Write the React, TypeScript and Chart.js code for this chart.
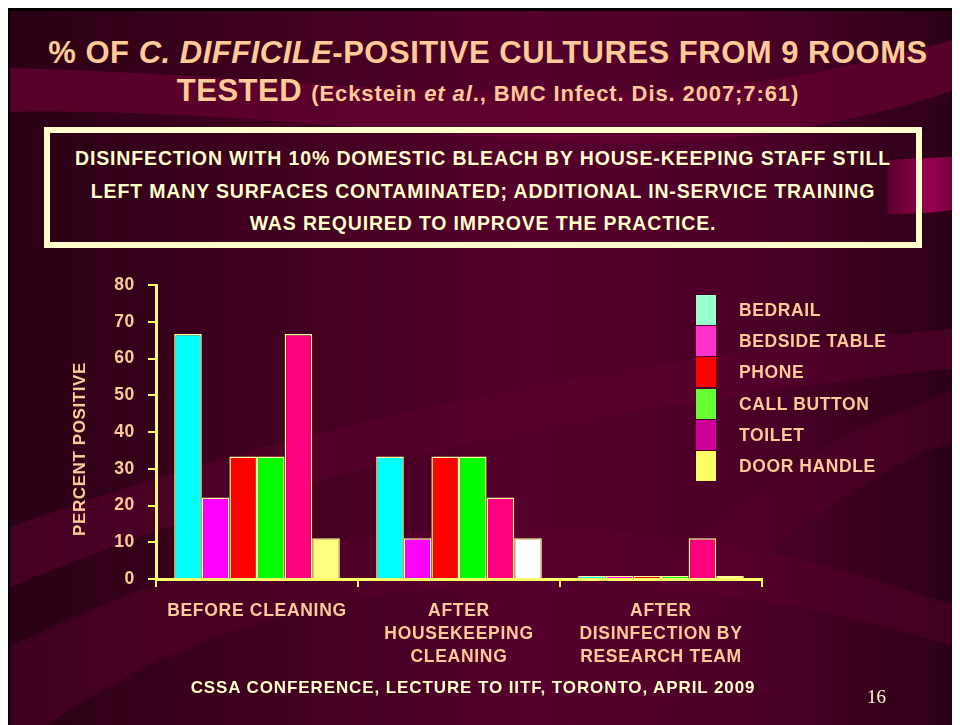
import React, { useEffect, useRef } from "react";
import { Chart, registerables } from "chart.js";

Chart.register(...registerables);

// ---------- data ----------
const categories: string[][] = [
  ["BEFORE CLEANING"],
  ["AFTER", "HOUSEKEEPING", "CLEANING"],
  ["AFTER", "DISINFECTION BY", "RESEARCH TEAM"],
];
const seriesNames = ["BEDRAIL", "BEDSIDE TABLE", "PHONE", "CALL BUTTON", "TOILET", "DOOR HANDLE"];
const bedrail = [66.7, 33.3, 0];
const bedsideTable = [22.2, 11.1, 0];
const phone = [33.3, 33.3, 0];
const callButton = [33.3, 33.3, 0];
const toilet = [66.7, 22.2, 11.1];
const doorHandle = [11.1, 11.1, 0];
const yMin = 0;
const yMax = 80;
const yStep = 10;

const seriesValues = [bedrail, bedsideTable, phone, callButton, toilet, doorHandle];
const barColors: (string | string[])[] = [
  "#00FFFF",
  "#FF00FF",
  "#FF0000",
  "#00FF00",
  "#FF0080",
  ["#FFFF80", "#FFFFFF", "#FFFF80"],
];
const legendColors = ["#99FFCC", "#FF33CC", "#FF0000", "#66FF33", "#CC0099", "#FFFF66"];

const FONT = "'Liberation Sans', Arial, sans-serif";
const PEACH = "#FFCC99";
const CREAM = "#FFFFCC";
const AXIS = "#FFFF66";

const spacingPlugin = {
  id: "letterSpacing",
  beforeDraw(chart: any) {
    (chart.ctx as any).letterSpacing = "0.7px";
  },
};

function ChartCanvas() {
  const ref = useRef<HTMLCanvasElement | null>(null);
  useEffect(() => {
    if (!ref.current) return;
    const chart = new Chart(ref.current, {
      type: "bar",
      data: {
        labels: categories as any,
        datasets: seriesNames.map((name, i) => ({
          label: name,
          data: seriesValues[i],
          backgroundColor: barColors[i] as any,
          borderColor: "#FFFF99",
          borderWidth: 1.5,
          minBarLength: 3,
          categoryPercentage: 0.82,
          barPercentage: 1,
        })),
      },
      options: {
        animation: false,
        responsive: false,
        maintainAspectRatio: false,
        layout: { padding: { left: 50, top: 277, right: 198, bottom: 46 } },
        plugins: {
          legend: { display: false },
          tooltip: { enabled: false },
          title: { display: false },
        },
        scales: {
          x: {
            grid: {
              display: true,
              drawOnChartArea: false,
              drawTicks: true,
              tickLength: 8,
              color: AXIS,
              lineWidth: 2,
              offset: true,
            },
            border: { display: true, color: AXIS, width: 3 },
            ticks: {
              color: PEACH,
              font: { family: FONT, size: 17.5, weight: "bold", lineHeight: 1.3 },
              padding: 13,
              maxRotation: 0,
              autoSkip: false,
            },
            afterFit: (s: any) => {
              s.height = 100;
            },
          },
          y: {
            min: yMin,
            max: yMax,
            grid: {
              display: true,
              drawOnChartArea: false,
              drawTicks: true,
              tickLength: 8,
              color: AXIS,
              lineWidth: 2,
            },
            border: { display: true, color: AXIS, width: 3 },
            ticks: {
              stepSize: yStep,
              color: PEACH,
              font: { family: FONT, size: 17.5, weight: "bold" },
              padding: 13,
            },
            afterFit: (s: any) => {
              s.width = 98;
            },
          },
        },
      },
      plugins: [spacingPlugin],
    });
    return () => chart.destroy();
  }, []);
  return (
    <canvas
      ref={ref}
      width={952}
      height={717}
      style={{ position: "absolute", left: 0, top: 0, width: 952, height: 717 }}
    />
  );
}

function Background() {
  return (
    <svg width={952} height={717} style={{ position: "absolute", left: 0, top: 0 }}>
      <defs>
        <linearGradient id="bg" x1="0" y1="0" x2="1" y2="0">
          <stop offset="0" stopColor="#2a0014" />
          <stop offset="0.3" stopColor="#41001f" />
          <stop offset="0.55" stopColor="#55002d" />
          <stop offset="0.78" stopColor="#4c0028" />
          <stop offset="1" stopColor="#2b0015" />
        </linearGradient>
        <linearGradient id="pink" x1="0" y1="0" x2="1" y2="0">
          <stop offset="0" stopColor="#5a002d" />
          <stop offset="0.6" stopColor="#9a0050" />
          <stop offset="1" stopColor="#6a0035" />
        </linearGradient>
      </defs>
      <rect x={0} y={0} width={952} height={717} fill="url(#bg)" />
      <path
        d="M0,60 C200,64 420,90 600,86 C760,82 880,50 952,30 L952,80 C860,112 720,142 560,134 C380,124 180,100 0,104 Z"
        fill="#62002f"
        opacity={0.8}
      />
      <path d="M880,152 C910,150 935,150 952,148 L952,200 C935,204 910,206 880,206 Z" fill="url(#pink)" />
      <path
        d="M0,520 C220,440 520,360 952,320 L952,360 C560,400 260,470 0,580 Z"
        fill="#5e0030"
        opacity={0.5}
      />
      <path
        d="M0,640 C160,560 300,520 520,520 C700,520 840,560 952,600 L952,640 C820,600 690,575 540,575 C340,575 180,620 40,717 L0,717 Z"
        fill="#5e0030"
        opacity={0.4}
      />
      <path
        d="M560,717 C620,600 720,470 900,400 L952,380 L952,430 C780,500 690,600 640,717 Z"
        fill="#5a002e"
        opacity={0.4}
      />
    </svg>
  );
}

export default function App() {
  useEffect(() => {
    document.body.style.overflow = "hidden";
  }, []);
  return (
    <div style={{ position: "relative", width: 952, height: 717, overflow: "hidden", fontFamily: FONT }}>
      <Background />
      <div style={{ position: "absolute", left: 0, top: 0, width: 952, height: 3, background: "#000" }} />
      <div style={{ position: "absolute", left: 0, top: 0, width: 2, height: 717, background: "#000" }} />

      {/* Title */}
      <div
        style={{
          position: "absolute",
          left: 0,
          top: 26,
          width: 960,
          textAlign: "center",
          color: PEACH,
          fontWeight: "bold",
          fontSize: 31,
          letterSpacing: "0.5px",
          lineHeight: "38px",
          whiteSpace: "nowrap",
        }}
      >
        <div>
          % OF <i>C. DIFFICILE</i>-POSITIVE CULTURES FROM 9 ROOMS
        </div>
        <div>
          TESTED{" "}
          <span style={{ fontSize: 22, letterSpacing: "0.9px" }}>
            (Eckstein <i>et al</i>., BMC Infect. Dis. 2007;7:61)
          </span>
        </div>
      </div>

      {/* Box */}
      <div
        style={{
          position: "absolute",
          left: 36,
          top: 119,
          width: 878,
          height: 121,
          boxSizing: "border-box",
          border: `6px solid ${CREAM}`,
          paddingTop: 9,
          textAlign: "center",
          color: CREAM,
          fontWeight: "bold",
          fontSize: 19.5,
          letterSpacing: "0.85px",
          lineHeight: "32.5px",
          whiteSpace: "nowrap",
        }}
      >
        <div>DISINFECTION WITH 10% DOMESTIC BLEACH BY HOUSE-KEEPING STAFF STILL</div>
        <div>LEFT MANY SURFACES CONTAMINATED; ADDITIONAL IN-SERVICE TRAINING</div>
        <div>WAS REQUIRED TO IMPROVE THE PRACTICE.</div>
      </div>

      <ChartCanvas />

      {/* Y axis title */}
      <div
        style={{
          position: "absolute",
          left: 71.5,
          top: 441,
          transform: "translate(-50%, -50%) rotate(-90deg)",
          color: PEACH,
          fontWeight: "bold",
          fontSize: 17,
          letterSpacing: "0.6px",
          whiteSpace: "nowrap",
          lineHeight: "20px",
        }}
      >
        PERCENT POSITIVE
      </div>

      {/* Legend */}
      <div style={{ position: "absolute", left: 688, top: 287 }}>
        {seriesNames.map((name, i) => (
          <div key={name} style={{ position: "relative", height: 31.2, width: 220 }}>
            <div
              style={{
                position: "absolute",
                left: 0,
                top: 0,
                width: 20,
                height: 30,
                background: legendColors[i],
              }}
            />
            <div
              style={{
                position: "absolute",
                left: 43,
                top: 0,
                height: 30,
                lineHeight: "30px",
                color: PEACH,
                fontWeight: "bold",
                fontSize: 17.5,
                letterSpacing: "0.6px",
                whiteSpace: "nowrap",
              }}
            >
              {name}
            </div>
          </div>
        ))}
      </div>

      {/* Footer */}
      <div
        style={{
          position: "absolute",
          left: 0,
          top: 668,
          width: 930,
          textAlign: "center",
          color: CREAM,
          fontWeight: "bold",
          fontSize: 17,
          letterSpacing: "0.9px",
          lineHeight: "24px",
          whiteSpace: "nowrap",
        }}
      >
        CSSA CONFERENCE, LECTURE TO IITF, TORONTO, APRIL 2009
      </div>
      <div
        style={{
          position: "absolute",
          left: 859,
          top: 678,
          color: CREAM,
          fontFamily: "'Liberation Serif', 'Times New Roman', serif",
          fontSize: 19,
          lineHeight: "22px",
        }}
      >
        16
      </div>
    </div>
  );
}
